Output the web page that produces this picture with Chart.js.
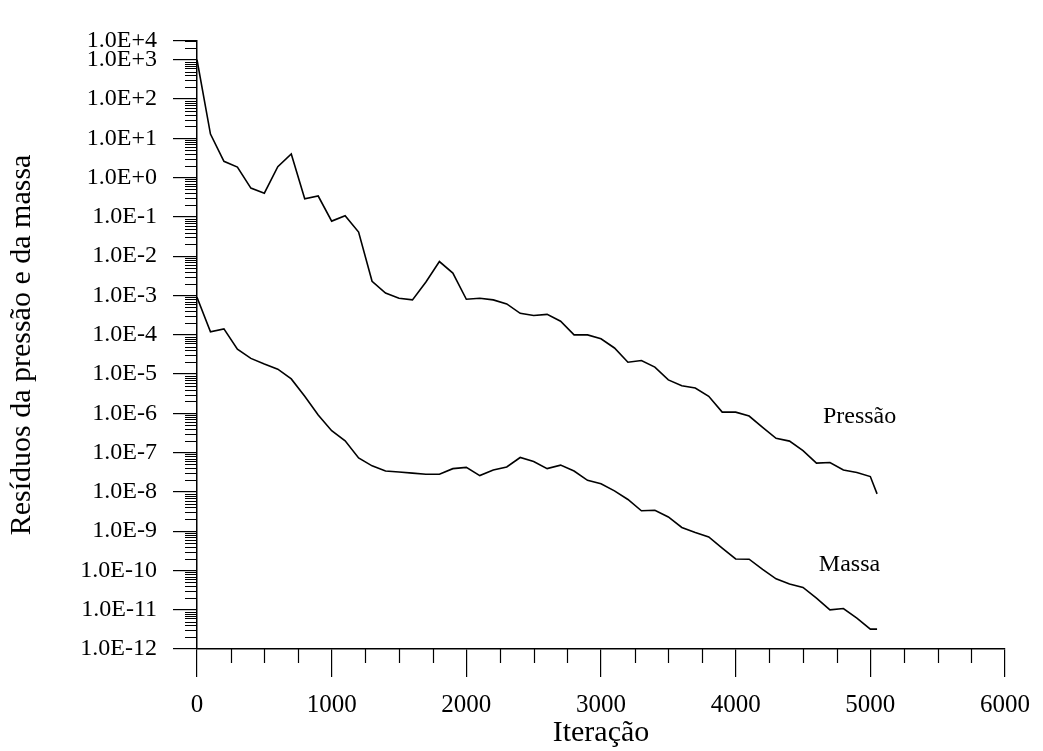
<!DOCTYPE html>
<html>
<head>
<meta charset="utf-8">
<title>Resíduos da pressão e da massa</title>
<script src="https://cdn.jsdelivr.net/npm/chart.js@4.4.1/dist/chart.umd.min.js"></script>
<style>
  html, body { margin: 0; padding: 0; background: #fff; }
  #wrap { width: 1043px; height: 751px; position: relative; }
</style>
</head>
<body>
<div id="wrap"><canvas id="residuos"></canvas></div>
<script>
// iteration counts (x) for both residual series
const iteracoes = [0, 100, 200, 300, 400, 500, 600, 700, 800, 900,
  1000, 1100, 1200, 1300, 1400, 1500, 1600, 1700, 1800, 1900,
  2000, 2100, 2200, 2300, 2400, 2500, 2600, 2700, 2800, 2900,
  3000, 3100, 3200, 3300, 3400, 3500, 3600, 3700, 3800, 3900,
  4000, 4100, 4200, 4300, 4400, 4500, 4600, 4700, 4800, 4900,
  5000, 5050];

const pressao = [1.0e3, 12.8, 2.6, 1.85, 0.54, 0.40, 1.9, 4.0, 0.29, 0.34,
  0.078, 0.107, 0.041, 2.3e-3, 1.15e-3, 8.5e-4, 7.7e-4, 2.2e-3, 7.3e-3, 3.7e-3,
  8.0e-4, 8.5e-4, 7.7e-4, 6.1e-4, 3.5e-4, 3.1e-4, 3.3e-4, 2.2e-4, 9.9e-5, 9.9e-5,
  7.9e-5, 4.6e-5, 2.0e-5, 2.2e-5, 1.5e-5, 7.1e-6, 5.0e-6, 4.4e-6, 2.7e-6, 1.07e-6,
  1.07e-6, 8.5e-7, 4.4e-7, 2.3e-7, 1.96e-7, 1.12e-7, 5.4e-8, 5.6e-8, 3.6e-8, 3.1e-8,
  2.45e-8, 8.9e-9];

const massa = [9.0e-4, 1.19e-4, 1.41e-4, 4.3e-5, 2.5e-5, 1.8e-5, 1.33e-5, 7.5e-6, 2.7e-6, 9.1e-7,
  3.6e-7, 2.0e-7, 7.3e-8, 4.6e-8, 3.4e-8, 3.2e-8, 3.0e-8, 2.8e-8, 2.8e-8, 3.9e-8,
  4.2e-8, 2.6e-8, 3.6e-8, 4.3e-8, 7.5e-8, 5.9e-8, 3.9e-8, 4.8e-8, 3.4e-8, 1.96e-8,
  1.6e-8, 1.06e-8, 6.4e-9, 3.3e-9, 3.4e-9, 2.3e-9, 1.24e-9, 9.2e-10, 7.1e-10, 3.7e-10,
  1.96e-10, 1.93e-10, 1.07e-10, 6.1e-11, 4.5e-11, 3.7e-11, 1.96e-11, 9.9e-12, 1.07e-11, 6.1e-12,
  3.2e-12, 3.2e-12];

// y axis: labelled decades, the last label sits at the top end of the axis
const yTickValues = [1e-12, 1e-11, 1e-10, 1e-9, 1e-8, 1e-7, 1e-6, 1e-5, 1e-4,
  1e-3, 1e-2, 1e-1, 1e0, 1e1, 1e2, 1e3, 3e3];
const yTickLabels = ['1.0E-12', '1.0E-11', '1.0E-10', '1.0E-9', '1.0E-8', '1.0E-7',
  '1.0E-6', '1.0E-5', '1.0E-4', '1.0E-3', '1.0E-2', '1.0E-1', '1.0E+0', '1.0E+1',
  '1.0E+2', '1.0E+3', '1.0E+4'];

const xTickLabels = ['0', '1000', '2000', '3000', '4000', '5000', '6000'];

// curve names written next to the line ends
const curveNames = ['Pressão', 'Massa'];
const curveNameAt = [[4920, 8.0e-7], [4845, 1.4e-10]];

const serif = 'Liberation Serif';

function toPoints(ys) {
  return ys.map((y, i) => ({ x: iteracoes[i], y: y }));
}

// short ticks: 2..9 inside each decade on y, every 250 on x
const minorTicks = {
  id: 'minorTicks',
  afterDraw(chart) {
    const ctx = chart.ctx;
    const xs = chart.scales.x;
    const ys = chart.scales.y;
    ctx.save();
    ctx.strokeStyle = '#000';
    ctx.lineWidth = 1.2;
    ctx.beginPath();
    for (let d = -12; d <= 3; d++) {
      for (let m = 2; m <= 9; m++) {
        const v = m * Math.pow(10, d);
        if (v > ys.max) break;
        const py = Math.round(ys.getPixelForValue(v)) + 0.5;
        ctx.moveTo(xs.left - 12, py);
        ctx.lineTo(xs.left, py);
      }
    }
    for (let v = 250; v < xs.max; v += 250) {
      if (v % 1000 === 0) continue;
      const px = Math.round(xs.getPixelForValue(v)) + 0.5;
      ctx.moveTo(px, ys.bottom);
      ctx.lineTo(px, ys.bottom + 14);
    }
    ctx.stroke();

    ctx.fillStyle = '#000';
    ctx.font = '24px "' + serif + '"';
    ctx.textAlign = 'center';
    ctx.textBaseline = 'middle';
    curveNames.forEach((name, i) => {
      const p = curveNameAt[i];
      ctx.fillText(name, xs.getPixelForValue(p[0]), ys.getPixelForValue(p[1]));
    });
    ctx.restore();
  }
};

const ctx = document.getElementById('residuos').getContext('2d');
new Chart(ctx, {
  type: 'line',
  data: {
    datasets: [
      { label: 'Pressão', data: toPoints(pressao) },
      { label: 'Massa', data: toPoints(massa) }
    ]
  },
  options: {
    responsive: true,
    maintainAspectRatio: false,
    animation: false,
    layout: { padding: { top: 41, right: 33, bottom: 0, left: 0 } },
    elements: {
      line: { borderColor: '#000', borderWidth: 1.6, tension: 0, fill: false },
      point: { radius: 0, hoverRadius: 0 }
    },
    plugins: {
      legend: { display: false },
      tooltip: { enabled: false }
    },
    scales: {
      x: {
        type: 'linear',
        min: 0,
        max: 6000,
        afterFit(scale) { scale.height = 102; },
        ticks: {
          stepSize: 1000,
          color: '#000',
          padding: 13,
          maxRotation: 0,
          font: { family: serif, size: 25 },
          callback: (v, i) => xTickLabels[i]
        },
        grid: { drawOnChartArea: false, drawTicks: true, tickLength: 28, color: '#000', lineWidth: 1.2 },
        border: { display: true, color: '#000', width: 1.5 },
        title: {
          display: true,
          text: 'Iteração',
          color: '#000',
          font: { family: serif, size: 30 },
          padding: { top: 0, bottom: 0 }
        }
      },
      y: {
        type: 'logarithmic',
        min: 1e-12,
        max: 3e3,
        afterFit(scale) { scale.width = 197; },
        afterBuildTicks(scale) {
          scale.ticks = yTickValues.map(v => ({ value: v, major: false }));
        },
        ticks: {
          color: '#000',
          padding: 16,
          autoSkip: false,
          font: { family: serif, size: 24 },
          callback: (v, i) => yTickLabels[i]
        },
        grid: { drawOnChartArea: false, drawTicks: true, tickLength: 24, color: '#000', lineWidth: 1.2 },
        border: { display: true, color: '#000', width: 1.5 },
        title: {
          display: true,
          text: 'Resíduos da pressão e da massa',
          color: '#000',
          font: { family: serif, size: 30 },
          padding: { top: 4, bottom: 0 }
        }
      }
    }
  },
  plugins: [minorTicks]
});
</script>
</body>
</html>
